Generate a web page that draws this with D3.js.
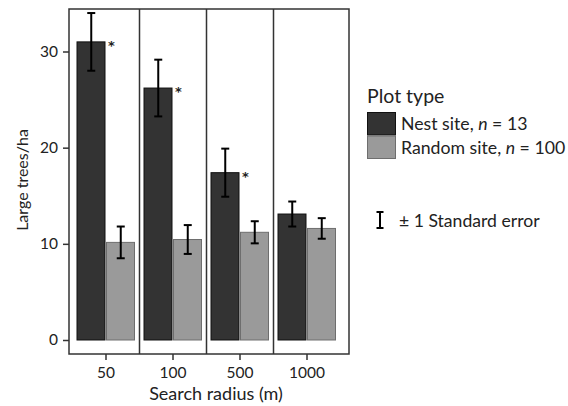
<!DOCTYPE html>
<html>
<head>
<meta charset="utf-8">
<script src="https://cdn.jsdelivr.net/npm/d3@7"></script>
<style>
  body { margin: 0; background: #fff; }
  text { font-family: Lato, "Open Sans", sans-serif; fill: #222; }
</style>
</head>
<body>
<svg width="568" height="406"></svg>
<script>
// data
var radii = ["50", "100", "500", "1000"];
var plotTypes = ["nest", "random"];
var nestMean = [31.0, 26.2, 17.4, 13.1];
var nestSE = [3.0, 2.95, 2.5, 1.3];
var randomMean = [10.15, 10.45, 11.2, 11.6];
var randomSE = [1.65, 1.5, 1.15, 1.07];
var significant = [true, true, true, false];
var yTicks = [0, 10, 20, 30];
var legendLabels = ["Nest site, ", "Random site, "];
var legendN = ["13", "100"];

var svg = d3.select("svg");

var panel = { left: 69, right: 349, top: 9, bottom: 354 };

var x = d3.scaleBand()
    .domain(radii)
    .range([72.5, 340.5]);

var xInner = d3.scaleBand()
    .domain(plotTypes)
    .range([-29.5, 29.5]);

var y = d3.scaleLinear()
    .domain([0, 30])
    .range([340, 51.5]);

var fill = { nest: "#333333", random: "#9a9a9a" };
var stroke = { nest: "#111111", random: "#6e6e6e" };

var rows = [];
radii.forEach(function(r, i) {
  rows.push({ radius: r, type: "nest", mean: nestMean[i], se: nestSE[i], star: significant[i] });
  rows.push({ radius: r, type: "random", mean: randomMean[i], se: randomSE[i], star: false });
});

// panel frame + facet dividers
svg.append("rect")
    .attr("x", panel.left).attr("y", panel.top)
    .attr("width", panel.right - panel.left)
    .attr("height", panel.bottom - panel.top)
    .attr("fill", "none")
    .attr("stroke", "#333")
    .attr("stroke-width", 1.5);

svg.append("g").selectAll("line")
    .data(radii.slice(1))
    .enter().append("line")
      .attr("x1", function(d) { return x(d); })
      .attr("x2", function(d) { return x(d); })
      .attr("y1", panel.top)
      .attr("y2", panel.bottom)
      .attr("stroke", "#333")
      .attr("stroke-width", 1.5);

// bars
var bars = svg.append("g").selectAll("g")
    .data(rows)
    .enter().append("g")
      .attr("transform", function(d) {
        return "translate(" + (x(d.radius) + x.bandwidth() / 2 + xInner(d.type)) + ",0)";
      });

bars.append("rect")
    .attr("x", 0.5)
    .attr("width", xInner.bandwidth() - 1.5)
    .attr("y", function(d) { return y(d.mean); })
    .attr("height", function(d) { return y(0) - y(d.mean); })
    .attr("fill", function(d) { return fill[d.type]; })
    .attr("stroke", function(d) { return stroke[d.type]; })
    .attr("stroke-width", 1);

// error bars
var eb = bars.append("g")
    .attr("transform", "translate(" + (xInner.bandwidth() / 2) + ",0)")
    .attr("stroke", "#000")
    .attr("stroke-width", 2);

eb.append("line")
    .attr("y1", function(d) { return y(d.mean + d.se); })
    .attr("y2", function(d) { return y(d.mean - d.se); });
eb.append("line")
    .attr("x1", -4).attr("x2", 4)
    .attr("y1", function(d) { return y(d.mean + d.se); })
    .attr("y2", function(d) { return y(d.mean + d.se); });
eb.append("line")
    .attr("x1", -4).attr("x2", 4)
    .attr("y1", function(d) { return y(d.mean - d.se); })
    .attr("y2", function(d) { return y(d.mean - d.se); });

// significance stars
bars.filter(function(d) { return d.star; })
  .append("text")
    .attr("x", xInner.bandwidth() + 2)
    .attr("y", function(d) { return y(d.mean) + 8; })
    .style("font-family", "'DejaVu Sans', sans-serif")
    .style("font-size", "13px")
    .style("font-weight", "bold")
    .attr("fill", "#111")
    .text("*");

// y axis
var yAxis = svg.append("g")
    .attr("transform", "translate(" + panel.left + ",0)")
    .call(d3.axisLeft(y).tickValues(yTicks).tickSize(6).tickPadding(5));
yAxis.select(".domain").remove();
yAxis.selectAll("line").attr("stroke", "#333").attr("stroke-width", 1.5);
yAxis.selectAll("text").style("font-size", "15.5px").style("font-family", "Lato, sans-serif").attr("fill", "#222");

// x axis
var xAxis = svg.append("g")
    .attr("transform", "translate(0," + panel.bottom + ")")
    .call(d3.axisBottom(x).tickSize(6).tickPadding(7));
xAxis.select(".domain").remove();
xAxis.selectAll("line").attr("stroke", "#333").attr("stroke-width", 1.5);
xAxis.selectAll("text").style("font-size", "15.5px").style("font-family", "Lato, sans-serif").attr("fill", "#222");

// axis titles
svg.append("text")
    .attr("x", 216).attr("y", 400)
    .attr("text-anchor", "middle")
    .style("font-size", "18px")
    .text("Search radius (m)");

svg.append("text")
    .attr("transform", "translate(28,180) rotate(-90)")
    .attr("text-anchor", "middle")
    .style("font-size", "16px")
    .text("Large trees/ha");

// legend
var legend = svg.append("g").attr("transform", "translate(367,0)");

legend.append("text")
    .attr("x", 0).attr("y", 103)
    .style("font-size", "19.5px")
    .text("Plot type");

var items = legend.selectAll("g.item")
    .data(plotTypes)
    .enter().append("g")
      .attr("class", "item")
      .attr("transform", function(d, i) { return "translate(0," + (112 + i * 23.5) + ")"; });

items.append("rect")
    .attr("x", 0.5).attr("y", 0.5)
    .attr("width", 28).attr("height", 22.5)
    .attr("fill", function(d) { return fill[d]; })
    .attr("stroke", function(d) { return stroke[d]; });

var lt = items.append("text")
    .attr("x", 34).attr("y", 18)
    .style("font-size", "17.7px");
lt.append("tspan").text(function(d, i) { return legendLabels[i]; });
lt.append("tspan").style("font-style", "italic").text("n");
lt.append("tspan").text(function(d, i) { return " = " + legendN[i]; });

// error bar key
var key = legend.append("g").attr("transform", "translate(13,0)")
    .attr("stroke", "#000").attr("stroke-width", 2);
key.append("line").attr("y1", 212).attr("y2", 228);
key.append("line").attr("x1", -3.5).attr("x2", 3.5).attr("y1", 212).attr("y2", 212);
key.append("line").attr("x1", -3.5).attr("x2", 3.5).attr("y1", 228).attr("y2", 228);

legend.append("text")
    .attr("x", 32).attr("y", 227)
    .style("font-size", "17.6px")
    .text("± 1 Standard error");
</script>
</body>
</html>
